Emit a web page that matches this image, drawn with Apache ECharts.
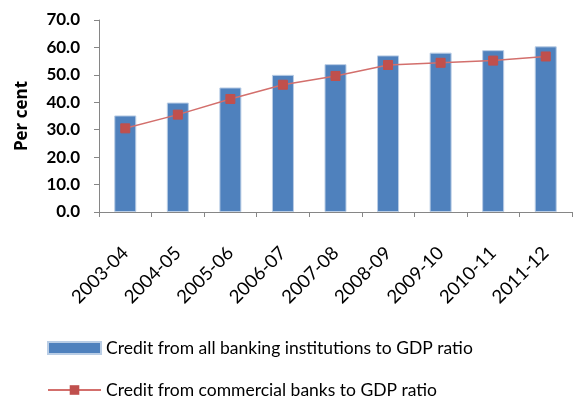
<!DOCTYPE html>
<html><head><meta charset="utf-8">
<script src="https://cdn.jsdelivr.net/npm/echarts@6/dist/echarts.min.js"></script>
<style>html,body{margin:0;padding:0;background:#fff}#c{width:574px;height:400px}</style>
</head><body><div id="c"></div>
<script>
const categories = ['2003-04','2004-05','2005-06','2006-07','2007-08','2008-09','2009-10','2010-11','2011-12'];
const allBanking = [35.2, 39.9, 45.4, 50.0, 53.9, 57.1, 58.1, 59.0, 60.4];
const commercialBanks = [30.5, 35.5, 41.2, 46.4, 49.6, 53.6, 54.4, 55.2, 56.7];
const yTicks = { min: 0, max: 70, interval: 10 };
const seriesNames = ['Credit from all banking institutions to GDP ratio', 'Credit from commercial banks to GDP ratio'];
const FONT = 'Lato';
const legendText = { fontSize: 17.5, color: '#000', fontFamily: FONT };
const chart = echarts.init(document.getElementById('c'), null, {renderer:'canvas'});
chart.setOption({
  animation: false,
  textStyle: { fontFamily: FONT },
  grid: { left: 99, right: 2, top: 20, bottom: 188, containLabel: false },
  xAxis: {
    type: 'category', data: categories, boundaryGap: true,
    axisLine: { lineStyle: { color: '#868686', width: 1 } },
    axisTick: { show: true, length: 5, lineStyle: { color: '#868686' } },
    axisLabel: { rotate: 45, color: '#000', fontSize: 18.5, fontFamily: FONT, margin: 38 }
  },
  yAxis: {
    type: 'value', min: yTicks.min, max: yTicks.max, interval: yTicks.interval,
    name: 'Per cent', nameLocation: 'middle', nameGap: 68,
    nameTextStyle: { fontWeight: 'bold', fontSize: 17, color: '#000', fontFamily: 'Open Sans' },
    axisLine: { show: true, lineStyle: { color: '#868686' } },
    axisTick: { show: true, length: 5, lineStyle: { color: '#868686' } },
    splitLine: { show: false },
    axisLabel: { formatter: v => v.toFixed(1), color: '#000', fontWeight: 'bold', fontSize: 17, fontFamily: FONT, margin: 19 }
  },
  legend: [
    { left: 47, top: 339, padding: 0, itemGap: 0, itemWidth: 53, itemHeight: 12, textStyle: legendText,
      data: [{ name: seriesNames[0], icon: 'rect' }] },
    { left: 47, top: 381, padding: 0, itemGap: 0, itemWidth: 53, itemHeight: 12, textStyle: legendText,
      data: [{ name: seriesNames[1] }] }
  ],
  series: [
    { name: seriesNames[0], type: 'bar', data: allBanking, barWidth: 22,
      itemStyle: { color: '#4F81BD', borderColor: '#B9CDE5', borderWidth: 1 } },
    { name: seriesNames[1], type: 'line', data: commercialBanks,
      symbol: 'rect', symbolSize: 9,
      lineStyle: { color: '#D36F6C', width: 1.5 },
      itemStyle: { color: '#C0504D', borderColor: '#C0504D' } }
  ]
});
</script></body></html>
